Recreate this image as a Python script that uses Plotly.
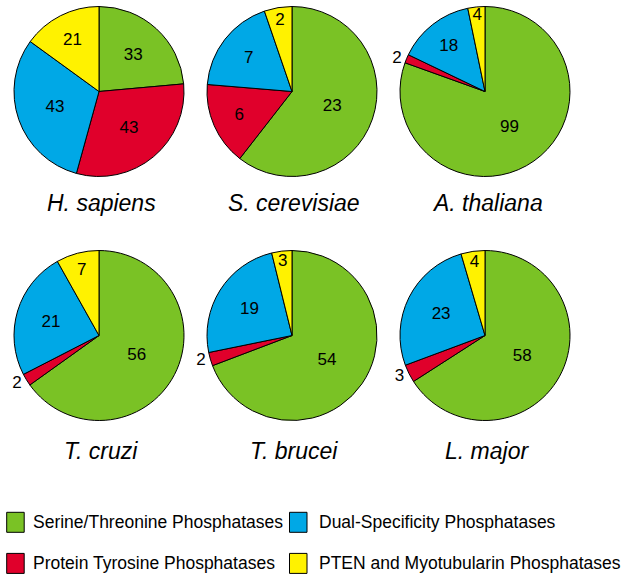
import plotly.graph_objects as go

W, H = 621, 577

categories = ["Serine/Threonine Phosphatases", "Protein Tyrosine Phosphatases",
              "Dual-Specificity Phosphatases", "PTEN and Myotubularin Phosphatases"]
colors = ["#7AC225", "#E0002B", "#00A8E6", "#FFF200"]

species = ["H. sapiens", "S. cerevisiae", "A. thaliana", "T. cruzi", "T. brucei", "L. major"]
h_sapiens = [33, 43, 43, 21]
s_cerevisiae = [23, 6, 7, 2]
a_thaliana = [99, 2, 18, 4]
t_cruzi = [56, 2, 21, 7]
t_brucei = [54, 2, 19, 3]
l_major = [58, 3, 23, 4]
all_values = [h_sapiens, s_cerevisiae, a_thaliana, t_cruzi, t_brucei, l_major]

# style: which pies put the (tiny) protein-tyrosine label outside
red_outside = [False, False, True, True, True, True]

# layout (window pixels)
col_x = [99, 292, 485]
row_y = [91.5, 335.5]
R = 85
title_y = [203, 451]


def px(x):
    return min(max(x / W, 0), 1)


def py(y):
    return min(max(1 - y / H, 0), 1)


fig = go.Figure()
annotations = []
for i, (name, vals) in enumerate(zip(species, all_values)):
    cx = col_x[i % 3]
    cy = row_y[i // 3]
    pos = ["inside"] * 4
    if red_outside[i]:
        pos[1] = "outside"
    fig.add_trace(go.Pie(
        labels=categories, values=vals, sort=False, direction="clockwise", rotation=0,
        marker=dict(colors=colors, line=dict(color="black", width=1)),
        textinfo="value", textposition=pos, insidetextorientation="horizontal",
        textfont=dict(family="Liberation Sans, Arial", size=17, color="black"),
        showlegend=False, hoverinfo="label+value",
        domain=dict(x=[px(cx - R), px(cx + R)], y=[py(cy + R), py(cy - R)]),
    ))
    annotations.append(dict(
        x=px(cx + 2), y=py(title_y[i // 3]), xref="paper", yref="paper",
        text=f"<i>{name}</i>", showarrow=False, xanchor="center", yanchor="middle",
        font=dict(family="Liberation Sans, Arial", size=23, color="black"),
    ))

# manual legend (2 x 2, row-major: Ser/Thr, DSP / PTP, PTEN)
legend_order = [0, 2, 1, 3]
leg_sq_x = [6.7, 289.5]
leg_sq_w = 17.5
leg_txt_x = [31.2, 316.8]
leg_sq_y = [522.3, 563.4]
leg_txt_y = [521.5, 563]
shapes = []
for k, ci in enumerate(legend_order):
    c = k % 2
    r = k // 2
    shapes.append(dict(
        type="rect", xref="paper", yref="paper",
        x0=leg_sq_x[c] / W, x1=(leg_sq_x[c] + leg_sq_w) / W,
        y0=py(leg_sq_y[r] + 10), y1=py(leg_sq_y[r] - 10),
        fillcolor=colors[ci], line=dict(color="black", width=1),
    ))
    annotations.append(dict(
        x=leg_txt_x[c] / W, y=py(leg_txt_y[r]), xref="paper", yref="paper",
        text=categories[ci], showarrow=False, xanchor="left", yanchor="middle",
        font=dict(family="Liberation Sans, Arial", size=17.5, color="black"),
    ))

fig.update_layout(
    width=W, height=H, margin=dict(l=0, r=0, t=0, b=0),
    paper_bgcolor="white", plot_bgcolor="white",
    annotations=annotations, shapes=shapes,
    uniformtext=dict(minsize=17, mode="show"),
)

fig.write_html(
    "out.html",
    config={"displayModeBar": False},
    post_script="document.body.style.margin='0';document.body.style.overflow='hidden';",
)
